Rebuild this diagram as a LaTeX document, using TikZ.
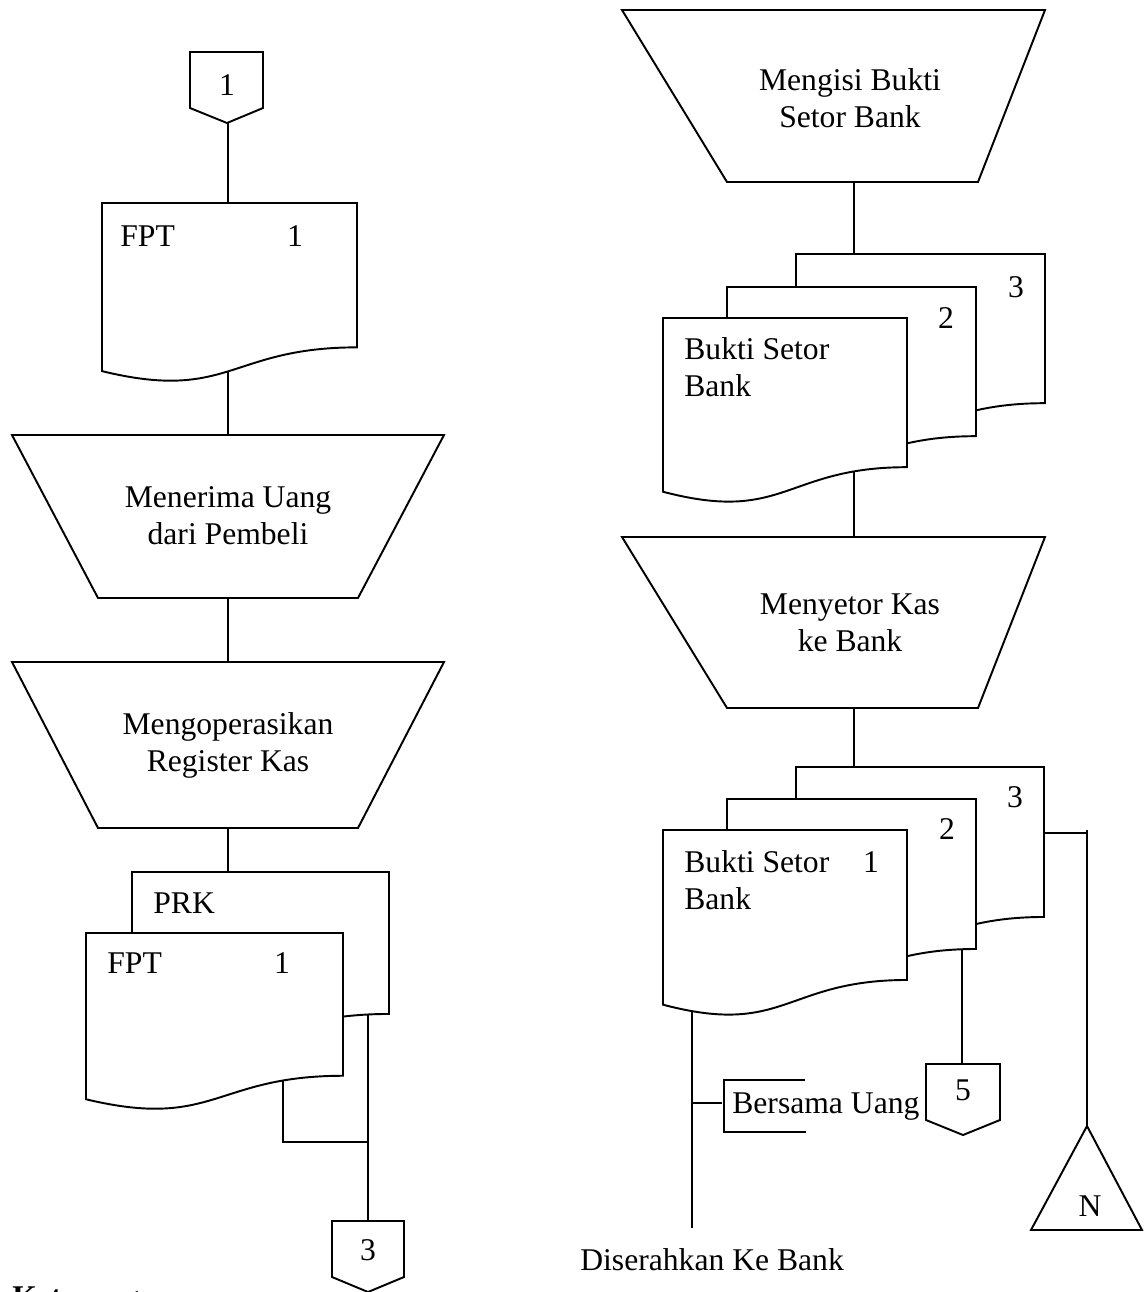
\documentclass[tikz,border=0pt]{standalone}
\usepackage{fontspec}
\setmainfont{Liberation Serif}
\usetikzlibrary{positioning}

\tikzset{
  flow/.style={line width=1.1pt},
  sheet/.style={flow, fill=white},
  lbl/.style={font=\fontsize{18}{21}\selectfont, inner sep=0pt},
}

%% document symbol: left, top, right, height
\newcommand{\docsheet}[4]{%
  \draw[sheet] (#1,#2) -- (#3,#2) -- (#3,{#2+0.802*#4})
    .. controls ({(#1+#3)/2},{#2+0.802*#4}) and ({(#1+#3)/2},{#2+1.107*#4})
    .. (#1,{#2+0.934*#4}) -- cycle;}

\begin{document}
\begin{tikzpicture}[x=0.02cm, y=-0.02cm]
  \useasboundingbox (0,0) rectangle (1144,1292);
  \clip (0,0) rectangle (1144,1292);

  %% left column
  \draw[flow] (190,52) -- (263,52) -- (263,108) -- (227,123) -- (190,108) -- cycle;
  \node[lbl] (con1) at (227,85) {1};
  \coordinate (con1b) at (228,123);

  \docsheet{102}{203}{357}{180}
  \node[lbl, anchor=west] (fpta) at (120,236) {FPT};
  \node[lbl] (fptan) at (295,236) {1};
  \coordinate (fptat) at (228,203);
  \coordinate (fptab) at (228,371);

  \draw[flow] (12,435) -- (444,435) -- (358,598) -- (98,598) -- cycle;
  \node[lbl, align=center] (terima) at (228,516) {Menerima Uang\\dari Pembeli};
  \coordinate (terimat) at (228,435);
  \coordinate (terimab) at (228,598);

  \draw[flow] (12,662) -- (444,662) -- (358,828) -- (98,828) -- cycle;
  \node[lbl, align=center] (operasi) at (228,745) {Mengoperasikan\\Register Kas};
  \coordinate (operasit) at (228,662);
  \coordinate (operasib) at (228,828);

  \docsheet{132}{872}{389}{177}
  \node[lbl, anchor=west] (prk) at (153,903) {PRK};
  \coordinate (prkt) at (228,872);
  \coordinate (prkb) at (368,1014);

  \docsheet{86}{933}{343}{178}
  \node[lbl, anchor=west] (fptb) at (107,963) {FPT};
  \node[lbl] (fptbn) at (282,963) {1};
  \coordinate (fptbb) at (283,1080);
  \coordinate (fptbk) at (283,1142);
  \coordinate (join3) at (368,1142);

  \draw[flow] (332,1221) -- (404,1221) -- (404,1277) -- (368,1292) -- (332,1277) -- cycle;
  \node[lbl] (con3) at (368,1250) {3};
  \coordinate (con3t) at (368,1221);

  \node[lbl, font=\fontsize{18}{21}\selectfont\bfseries, anchor=north west]
    (ket) at (12,1286) {Keterangan:};

  %% right column
  \draw[flow] (622,10) -- (1045,10) -- (978,182) -- (727,182) -- cycle;
  \node[lbl, align=center] (isi) at (850,98) {Mengisi Bukti\\Setor Bank};
  \coordinate (isib) at (854,182);

  \foreach \l/\t/\r in {796/254/1045, 727/287/976, 663/318/907}
    {\docsheet{\l}{\t}{\r}{186}}
  \node[lbl] (bsa3) at (1016,287) {3};
  \node[lbl] (bsa2) at (946,318) {2};
  \node[lbl, anchor=west, align=left] (bsa) at (684,367) {Bukti Setor\\Bank};
  \coordinate (bsat) at (854,254);
  \coordinate (bsab) at (854,471);

  \draw[flow] (622,537) -- (1045,537) -- (978,708) -- (727,708) -- cycle;
  \node[lbl, align=center] (setor) at (850,623) {Menyetor Kas\\ke Bank};
  \coordinate (setort) at (854,537);
  \coordinate (setorb) at (854,708);

  \foreach \l/\t/\r in {796/767/1044, 727/799/976, 663/830/907}
    {\docsheet{\l}{\t}{\r}{187}}
  \node[lbl] (bsb3) at (1015,797) {3};
  \node[lbl] (bsb2) at (947,829) {2};
  \node[lbl] (bsb1) at (871,862) {1};
  \node[lbl, anchor=west, align=left] (bsb) at (684,880) {Bukti Setor\\Bank};
  \coordinate (bsbt) at (854,767);
  \coordinate (bsb3r) at (1044,833);
  \coordinate (bsb2b) at (962,949);
  \coordinate (bsb1b) at (692,1011);
  \coordinate (armN) at (1087,833);
  \coordinate (armNt) at (1087,830);

  \draw[flow] (926,1064) -- (1000,1064) -- (1000,1120) -- (963,1135) -- (926,1120) -- cycle;
  \node[lbl] (con5) at (963,1090) {5};
  \coordinate (con5t) at (962,1064);

  \draw[flow] (1087,1126) -- (1142,1230) -- (1031,1230) -- cycle;
  \node[lbl] (arsip) at (1090,1206) {N};
  \coordinate (arsipt) at (1087,1126);

  %% annotation
  \coordinate (uangk) at (692,1103);
  \coordinate (uangb) at (722,1103);
  \draw[flow] (805,1080) -- (724,1080) -- (724,1132) -- (806,1132);
  \node[lbl, anchor=west] (uang) at (732,1107) {Bersama Uang};
  \coordinate (bankend) at (692,1228);
  \node[lbl, anchor=west] (bank) at (580,1260) {Diserahkan Ke Bank};

  %% connectors
  \draw[flow] (con1b) -- (fptat);
  \draw[flow] (fptab) -- (terimat);
  \draw[flow] (terimab) -- (operasit);
  \draw[flow] (operasib) -- (prkt);
  \draw[flow] (prkb) -- (con3t);
  \draw[flow] (fptbb) -- (fptbk) -- (join3);
  \draw[flow] (isib) -- (bsat);
  \draw[flow] (bsab) -- (setort);
  \draw[flow] (setorb) -- (bsbt);
  \draw[flow] (bsb3r) -- (armN);
  \draw[flow] (armNt) -- (arsipt);
  \draw[flow] (bsb2b) -- (con5t);
  \draw[flow] (bsb1b) -- (bankend);
  \draw[flow] (uangk) -- (uangb);

\end{tikzpicture}
\end{document}
